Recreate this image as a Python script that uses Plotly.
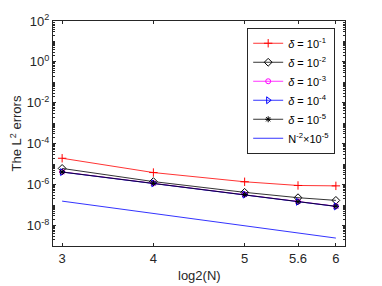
import plotly.graph_objects as go

x_vals = [3, 4, 5, 5.585, 6]
x_ticklabels = ["3", "4", "5", "5.6", "6"]

err_d1 = [1.95e-5, 3.9e-6, 1.38e-6, 9.1e-7, 8.7e-7]
err_d2 = [6.2e-6, 1.41e-6, 4.2e-7, 2.3e-7, 1.7e-7]
err_d3 = [4.2e-6, 1.18e-6, 3.3e-7, 1.48e-7, 8.8e-8]
err_d4 = [4.1e-6, 1.16e-6, 3.25e-7, 1.45e-7, 8.6e-8]
err_d5 = [4.15e-6, 1.17e-6, 3.28e-7, 1.46e-7, 8.7e-8]
ref_line = [1.56e-7, 3.9e-8, 9.8e-9, 4.25e-9, 2.44e-9]

y_tickvals = [1e2, 1e0, 1e-2, 1e-4, 1e-6, 1e-8]
y_ticklabels = ["10<sup>2</sup>", "10<sup>0</sup>", "10<sup>-2</sup>", "10<sup>-4</sup>",
                "10<sup>-6</sup>", "10<sup>-8</sup>"]

names = ["<i>δ</i> = 10<sup>-1</sup>", "<i>δ</i> = 10<sup>-2</sup>", "<i>δ</i> = 10<sup>-3</sup>",
         "<i>δ</i> = 10<sup>-4</sup>", "<i>δ</i> = 10<sup>-5</sup>", "N<sup>-2</sup>×10<sup>-5</sup>"]

FONT = "Liberation Sans, Arial"

fig = go.Figure()
series = [
    (err_d1, "#ff0000", "cross-thin-open", 6),
    (err_d2, "#000000", "diamond-open", 6),
    (err_d3, "#ff00ff", "circle-open", 5),
    (err_d4, "#0000ff", "triangle-right-open", 6),
    (err_d5, "#000000", "asterisk-open", 5),
]
for (vals, col, sym, sz), nm in zip(series, names[:5]):
    fig.add_trace(go.Scatter(
        x=x_vals, y=vals, mode="lines+markers", name=nm,
        line=dict(color=col, width=0.8),
        marker=dict(symbol=sym, size=sz, color=col, line=dict(color=col, width=1)),
    ))
fig.add_trace(go.Scatter(x=x_vals, y=ref_line, mode="lines", name=names[5],
                         line=dict(color="#0000ff", width=0.8)))

axis_common = dict(
    showline=True, linecolor="#262626", linewidth=1, mirror="ticks",
    ticks="inside", ticklen=3, tickcolor="#262626", showgrid=False, zeroline=False,
    tickfont=dict(family=FONT, size=13, color="#262626"), automargin=False,
)

fig.update_xaxes(
    range=[2.9, 6.1], tickvals=x_vals, ticktext=x_ticklabels,
    **axis_common,
)
fig.update_yaxes(
    type="log", range=[-9, 2], tickvals=y_tickvals, ticktext=y_ticklabels,
    minor=dict(ticks="inside", ticklen=2, tickcolor="#262626", dtick="D1"),
    title=dict(text="The L<sup>2</sup> errors", font=dict(family=FONT, size=13, color="#262626"), standoff=12),
    **axis_common,
)

fig.add_annotation(
    text="log2(N)", xref="paper", yref="paper", x=0.5, y=-0.133,
    xanchor="center", yanchor="middle", showarrow=False,
    font=dict(family=FONT, size=13, color="#262626"),
)

# page body has an 8px default margin, so the figure is sized to fit the 382x286 window
fig.update_layout(
    width=374, height=278,
    margin=dict(l=45, r=37, t=13, b=40),
    paper_bgcolor="white", plot_bgcolor="white",
    font=dict(family=FONT, size=13, color="#000000"),
    legend=dict(
        x=0.665, y=0.97, xanchor="left", yanchor="top",
        bordercolor="#262626", borderwidth=1, bgcolor="white",
        font=dict(family=FONT, size=11, color="#000000"),
        tracegroupgap=0, itemwidth=30,
    ),
)

fig.write_html("out.html")
